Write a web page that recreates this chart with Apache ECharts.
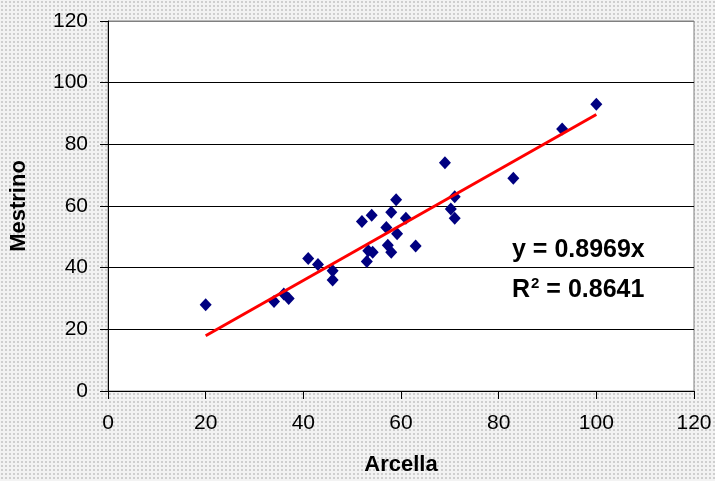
<!DOCTYPE html>
<html>
<head>
<meta charset="utf-8">
<script src="https://cdn.jsdelivr.net/npm/echarts@6/dist/echarts.min.js"></script>
<style>html,body{margin:0;padding:0;}#c{width:715px;height:481px;}</style>
</head>
<body>
<div id="c"></div>
<script>
// Data
const arcella  = [20, 34, 36, 37, 41, 43, 46, 46, 52, 54, 53.3, 54.2, 53, 57, 57.3, 58, 58, 59, 59.2, 61, 63, 69, 70.2, 71, 71, 83, 93, 100];
const mestrino = [28, 29, 31.5, 30, 43, 41, 39, 36, 55, 57, 45.5, 45, 42, 53, 47.3, 45, 58, 62, 51, 56, 47, 74, 59, 63, 56, 69, 85, 93];
const trendX = [20, 100];
const trendY = [17.94, 89.69];
const eqLine1 = 'y = 0.8969x';
const r2Value = '0.8641';
const xTitle = 'Arcella';
const yTitle = 'Mestrino';

const points = arcella.map((x, i) => [x, mestrino[i]]);
const trend = trendX.map((x, i) => [x, trendY[i]]);

// dotted background pattern
const pat = document.createElement('canvas');
pat.width = 4; pat.height = 4;
const pc = pat.getContext('2d');
pc.fillStyle = '#f3f3f3'; pc.fillRect(0, 0, 4, 4);
pc.fillStyle = '#cfcfcf'; pc.fillRect(1, 1, 2, 2);

const chart = echarts.init(document.getElementById('c'), null, {renderer: 'canvas'});
const font = 'Liberation Sans, Arial, sans-serif';
chart.setOption({
  animation: false,
  backgroundColor: {image: pat, repeat: 'repeat'},
  grid: {left: 106, right: 21, top: 21, bottom: 89, show: true, backgroundColor: '#ffffff', borderColor: '#808080', borderWidth: 1},
  xAxis: {
    type: 'value', min: 0, max: 120, interval: 20,
    name: xTitle, nameLocation: 'middle', nameGap: 63,
    nameTextStyle: {fontFamily: font, fontWeight: 'bold', fontSize: 22, color: '#000'},
    axisLine: {show: true, lineStyle: {color: '#000', width: 1}},
    axisTick: {show: true, inside: false, length: 8, lineStyle: {color: '#000'}},
    axisLabel: {fontFamily: font, fontSize: 21, color: '#000', margin: 22},
    splitLine: {show: false}
  },
  yAxis: {
    type: 'value', min: 0, max: 120, interval: 20,
    name: yTitle, nameLocation: 'middle', nameGap: 78, nameRotate: 90,
    nameTextStyle: {fontFamily: font, fontWeight: 'bold', fontSize: 22, color: '#000'},
    axisLine: {show: true, lineStyle: {color: '#000', width: 1}},
    axisTick: {show: true, inside: false, length: 8, lineStyle: {color: '#000'}},
    axisLabel: {fontFamily: font, fontSize: 21, color: '#000', margin: 20},
    splitLine: {show: true, lineStyle: {color: ['#000', '#000', '#000', '#000', '#000', '#000', '#808080'], width: 1}}
  },
  series: [
    {
      type: 'scatter', data: points, symbol: 'diamond', symbolSize: [12, 13],
      itemStyle: {color: '#000080', opacity: 1}, z: 3
    },
    {
      type: 'line', data: trend, showSymbol: false, symbol: 'none',
      lineStyle: {color: '#ff0000', width: 3}, z: 4
    }
  ],
  graphic: [
    {type: 'text', left: 512, top: 238, z: 10,
     style: {text: eqLine1, font: 'bold 25px ' + font, fill: '#000'}},
    {type: 'text', left: 512, top: 276, z: 10,
     style: {
       text: '{b|R}{s|2}{b| = ' + r2Value + '}',
       rich: {
         b: {font: 'bold 25px ' + font, fill: '#000', verticalAlign: 'bottom'},
         s: {font: 'bold 15px ' + font, fill: '#000', verticalAlign: 'top', padding: [0, 0, 12, 1]}
       }
     }}
  ]
});
</script>
</body>
</html>
